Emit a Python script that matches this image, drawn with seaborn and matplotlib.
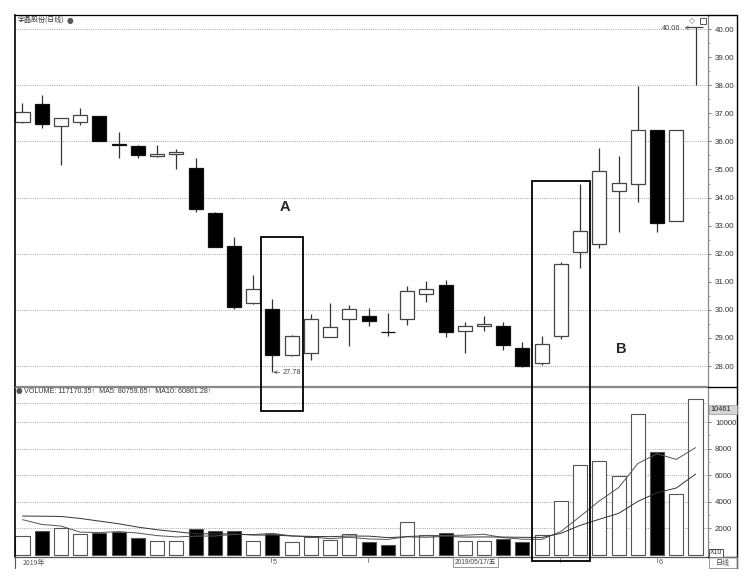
"""
宇晶股份 daily candlestick chart with volume pane (boxes A / B)
"""

import matplotlib
matplotlib.use("Agg")
import pandas as pd
import matplotlib.pyplot as plt
import seaborn as sns
from matplotlib.patches import Rectangle
from matplotlib.lines import Line2D

sns.set_theme(style="white")
plt.rcParams["font.family"] = ["Liberation Sans", "Noto Sans CJK SC", "DejaVu Sans"]

# ---------------------------------------------
# Data
# ---------------------------------------------

opens = [36.69, 37.33, 36.56, 36.68, 36.90, 35.92, 35.84, 35.47, 35.54, 35.06,
         33.46, 32.27, 30.23, 30.02, 28.38, 28.45, 29.04, 29.66, 29.79, 29.23,
         29.66, 30.55, 30.88, 29.25, 29.43, 29.42, 28.64, 28.10, 29.07, 32.06,
         32.36, 34.23, 34.48, 36.39, 33.16, 40.06]
highs = [37.36, 37.66, 36.85, 37.18, 36.92, 36.34, 35.86, 35.87, 35.73, 35.40,
         33.48, 32.58, 31.26, 30.37, 29.10, 29.87, 30.25, 30.17, 30.05, 29.90,
         30.86, 31.04, 31.06, 29.56, 29.78, 29.56, 28.85, 29.07, 31.70, 34.49,
         35.76, 35.48, 37.97, 36.39, 36.39, 40.06]
lows = [36.65, 36.49, 35.16, 36.59, 36.00, 35.42, 35.40, 35.45, 35.00, 33.49,
        32.23, 30.03, 30.20, 27.78, 28.35, 28.21, 29.02, 28.72, 29.43, 29.08,
        29.46, 30.27, 29.03, 28.46, 29.25, 28.57, 27.98, 28.05, 28.96, 31.49,
        32.20, 32.76, 33.83, 32.76, 33.16, 38.00]
closes = [37.05, 36.63, 36.83, 36.93, 36.00, 35.88, 35.50, 35.56, 35.61, 33.59,
          32.25, 30.11, 30.74, 28.38, 29.07, 29.66, 29.40, 30.02, 29.60, 29.20,
          30.68, 30.73, 29.21, 29.42, 29.50, 28.75, 28.00, 28.78, 31.63, 32.81,
          34.94, 34.53, 36.39, 33.10, 36.39, 40.06]

volumes = [1400, 1830, 2050, 1550, 1650, 1720, 1270, 1090, 1090, 1920,
           1770, 1830, 1070, 1570, 970, 1370, 1150, 1600, 970, 770,
           2450, 1520, 1620, 1090, 1090, 1190, 970, 1520, 4050, 6750,
           7080, 5950, 10580, 7760, 4570, 11717]
ma5 = [2660, 2300, 2180, 1720, 1690, 1760, 1650, 1460, 1360, 1420,
       1430, 1540, 1540, 1630, 1440, 1360, 1230, 1330, 1210, 1170,
       1390, 1460, 1470, 1490, 1560, 1310, 1190, 1170, 1770, 2900,
       4070, 5070, 6880, 7620, 7190, 8076]
ma10 = [2930, 2920, 2900, 2750, 2550, 2350, 2100, 1900, 1750, 1600,
        1590, 1590, 1500, 1500, 1430, 1400, 1380, 1430, 1420, 1310,
        1370, 1340, 1400, 1350, 1360, 1350, 1330, 1320, 1630, 2230,
        2690, 3130, 4030, 4690, 5040, 6080]

price_ticks = list(range(28, 41))
price_grid = list(range(28, 41, 2))
volume_ticks = [2000, 4000, 6000, 8000, 10000]

df = pd.DataFrame({
    "idx": range(len(opens)),
    "open": opens, "high": highs, "low": lows, "close": closes,
    "volume": volumes, "MA5": ma5, "MA10": ma10,
})
df["dir"] = ["down" if c < o else "up" for o, c in zip(df["open"], df["close"])]

W, H = 755, 581


def fpos(x, y):
    return x / W, 1 - y / H


fig = plt.figure(figsize=(W / 100, H / 100), dpi=100)
fig.patch.set_facecolor("white")

ax1 = fig.add_axes([15 / W, 1 - 386 / H, 693 / W, 371 / H])
ax2 = fig.add_axes([15 / W, 1 - 557 / H, 693 / W, 170 / H])

XLIM = (-0.39, 35.65)
BODY_W = 0.73

# ---------------------------------------------
# Candles
# ---------------------------------------------

for y in price_grid:
    ax1.axhline(y, color="#8a8a8a", lw=0.6, ls=(0, (1, 1.6)), zorder=0)

for _, r in df.iterrows():
    down = r["close"] < r["open"]
    ax1.vlines(r["idx"], r["low"], r["high"], color="#333333", lw=0.9, zorder=1)
    bottom = min(r["open"], r["close"])
    height = max(abs(r["close"] - r["open"]), 0.03)
    ax1.bar(r["idx"], height, bottom=bottom, width=BODY_W,
            color="black" if down else "white",
            edgecolor="#111111" if down else "#444444", linewidth=0.9, zorder=2)

ax1.set_xlim(*XLIM)
ax1.set_ylim(27.29, 40.50)
ax1.set_xticks([])
ax1.yaxis.tick_right()
ax1.set_yticks(price_ticks)
ax1.set_yticklabels([f"{v:.2f}" for v in price_ticks])
ax1.set_yticks([v + 0.5 for v in price_ticks[:-1]], minor=True)
ax1.tick_params(axis="y", which="major", right=True, direction="out", length=2,
                width=0.6, color="#666666", pad=3, labelsize=5.7, labelcolor="#333333")
ax1.tick_params(axis="y", which="minor", right=True, direction="out", length=1.5,
                width=0.5, color="#888888")

ax1.annotate("27.78", xy=(13.05, 27.78), xytext=(13.55, 27.78), fontsize=5.3,
             color="#444444", va="center",
             arrowprops=dict(arrowstyle="->", lw=0.5, color="#444444",
                             shrinkA=0, shrinkB=0))
ax1.annotate("40.06", xy=(34.95, 40.06), xytext=(34.2, 40.02), fontsize=5.3,
             color="#444444", va="center", ha="right",
             arrowprops=dict(arrowstyle="<-", lw=0.5, color="#444444",
                             shrinkA=1, shrinkB=0))

# ---------------------------------------------
# Volume
# ---------------------------------------------

sns.barplot(data=df, x="idx", y="volume", hue="dir",
            palette={"up": "white", "down": "black"}, dodge=False,
            width=BODY_W, edgecolor="#555555", linewidth=0.8,
            errorbar=None, legend=False, ax=ax2, zorder=2)
sns.lineplot(data=df, x="idx", y="MA5", color="#555555", lw=0.7, ax=ax2, zorder=3)
sns.lineplot(data=df, x="idx", y="MA10", color="#333333", lw=0.7, ax=ax2, zorder=3)

for v in volume_ticks + [11430]:
    ax2.axhline(v, color="#8a8a8a", lw=0.6, ls=(0, (1, 1.6)), zorder=0)

ax2.set_xlim(*XLIM)
ax2.set_ylim(-150, 12640)
ax2.set_xticks([])
ax2.set_xlabel("")
ax2.set_ylabel("")
ax2.yaxis.tick_right()
ax2.set_yticks(volume_ticks)
ax2.set_yticklabels([str(v) for v in volume_ticks])
ax2.set_yticks([1000, 3000, 5000, 7000, 9000, 11000], minor=True)
ax2.tick_params(axis="y", which="major", right=True, direction="out", length=2,
                width=0.6, color="#666666", pad=3, labelsize=5.7, labelcolor="#333333")
ax2.tick_params(axis="y", which="minor", right=True, direction="out", length=1.5,
                width=0.5, color="#888888")

# ---------------------------------------------
# Frames
# ---------------------------------------------

for ax in (ax1, ax2):
    for side in ("top", "bottom", "right"):
        ax.spines[side].set_color("#888888")
        ax.spines[side].set_linewidth(0.9)
    ax.spines["left"].set_color("black")
    ax.spines["left"].set_linewidth(1.2)
ax1.spines["top"].set_color("black")
ax2.spines["bottom"].set_color("#555555")


def fig_line(x0, y0, x1, y1, color="black", lw=1.0):
    a, b = fpos(x0, y0)
    c, d = fpos(x1, y1)
    fig.add_artist(Line2D([a, c], [b, d], color=color, lw=lw))


fig_line(708, 15, 737, 15)
fig_line(737, 15, 737, 568)
fig_line(708, 386.5, 737, 386.5)
fig_line(708, 557, 737, 557)
fig_line(15, 568, 15, 557, color="#555555", lw=0.8)

# small date ticks
for x in (271, 368, 560, 657):
    fig_line(x, 557, x, 562, color="#777777", lw=0.6)


def fig_box(x0, y0, x1, y1, ec="black", fc="none", lw=1.3, z=5):
    a, b = fpos(x0, y1)
    fig.add_artist(Rectangle((a, b), (x1 - x0) / W, (y1 - y0) / H,
                             transform=fig.transFigure, fill=fc != "none",
                             facecolor=fc, edgecolor=ec, lw=lw, zorder=z))


# boxes A and B
fig_box(261, 237, 303, 411)
fig_box(532, 181, 590, 561)

fig.text(*fpos(285, 207), "A", fontsize=10.5, fontweight="bold", ha="center", va="center")
fig.text(*fpos(621, 349), "B", fontsize=10.5, fontweight="bold", ha="center", va="center")

# ---------------------------------------------
# Texts
# ---------------------------------------------

fig.text(*fpos(17, 20), "宇晶股份(日线)", fontsize=5, color="#333333", va="center",
         family=["Noto Sans CJK SC", "DejaVu Sans"])
fig.text(*fpos(70, 20), "●", fontsize=5.5, color="#555555", va="center", ha="center",
         family=["DejaVu Sans"])
fig.text(*fpos(19, 391), "●", fontsize=5.5, color="#555555", va="center", ha="center",
         family=["DejaVu Sans"])
fig.text(*fpos(24, 391), "VOLUME: 117170.35↑  MA5: 80759.65↑  MA10: 60801.28↑",
         fontsize=5.1, color="#333333", va="center",
         family=["Liberation Sans", "DejaVu Sans"])

fig.text(*fpos(692, 21), "◇", fontsize=5.5, color="#666666", va="center", ha="center",
         family=["DejaVu Sans"])
fig_box(700, 18, 706, 24, ec="#555555", lw=0.7)

fig_box(709, 405, 737, 414, ec="#999999", fc="#d6d6d6", lw=0.5)
fig.text(*fpos(710, 409.5), "10461", fontsize=5.3, color="#222222", va="center",
         zorder=7)

fig_box(709, 549, 723, 557, ec="#333333", fc="white", lw=0.6)
fig.text(*fpos(710, 553), "X10", fontsize=5, color="#333333", va="center", zorder=7)

fig.text(*fpos(23, 563), "2019年", fontsize=5, color="#555555", va="center",
         family=["Noto Sans CJK SC", "DejaVu Sans"])
fig.text(*fpos(273, 563), "5", fontsize=5.3, color="#555555", va="center")
fig.text(*fpos(659, 563), "6", fontsize=5.3, color="#555555", va="center")

fig_box(453, 557, 498, 567, ec="#888888", lw=0.6)
fig.text(*fpos(475.5, 562), "2019/05/17/五", fontsize=4.8, color="#444444",
         va="center", ha="center", family=["Liberation Sans", "Noto Sans CJK SC"],
         zorder=7)
fig_box(709, 557, 737, 568, ec="#888888", lw=0.6)
fig.text(*fpos(723, 563), "日线", fontsize=5, color="#444444", va="center",
         ha="center", family=["Noto Sans CJK SC", "DejaVu Sans"], zorder=7)

fig.savefig("out.png", dpi=100)
plt.close(fig)
